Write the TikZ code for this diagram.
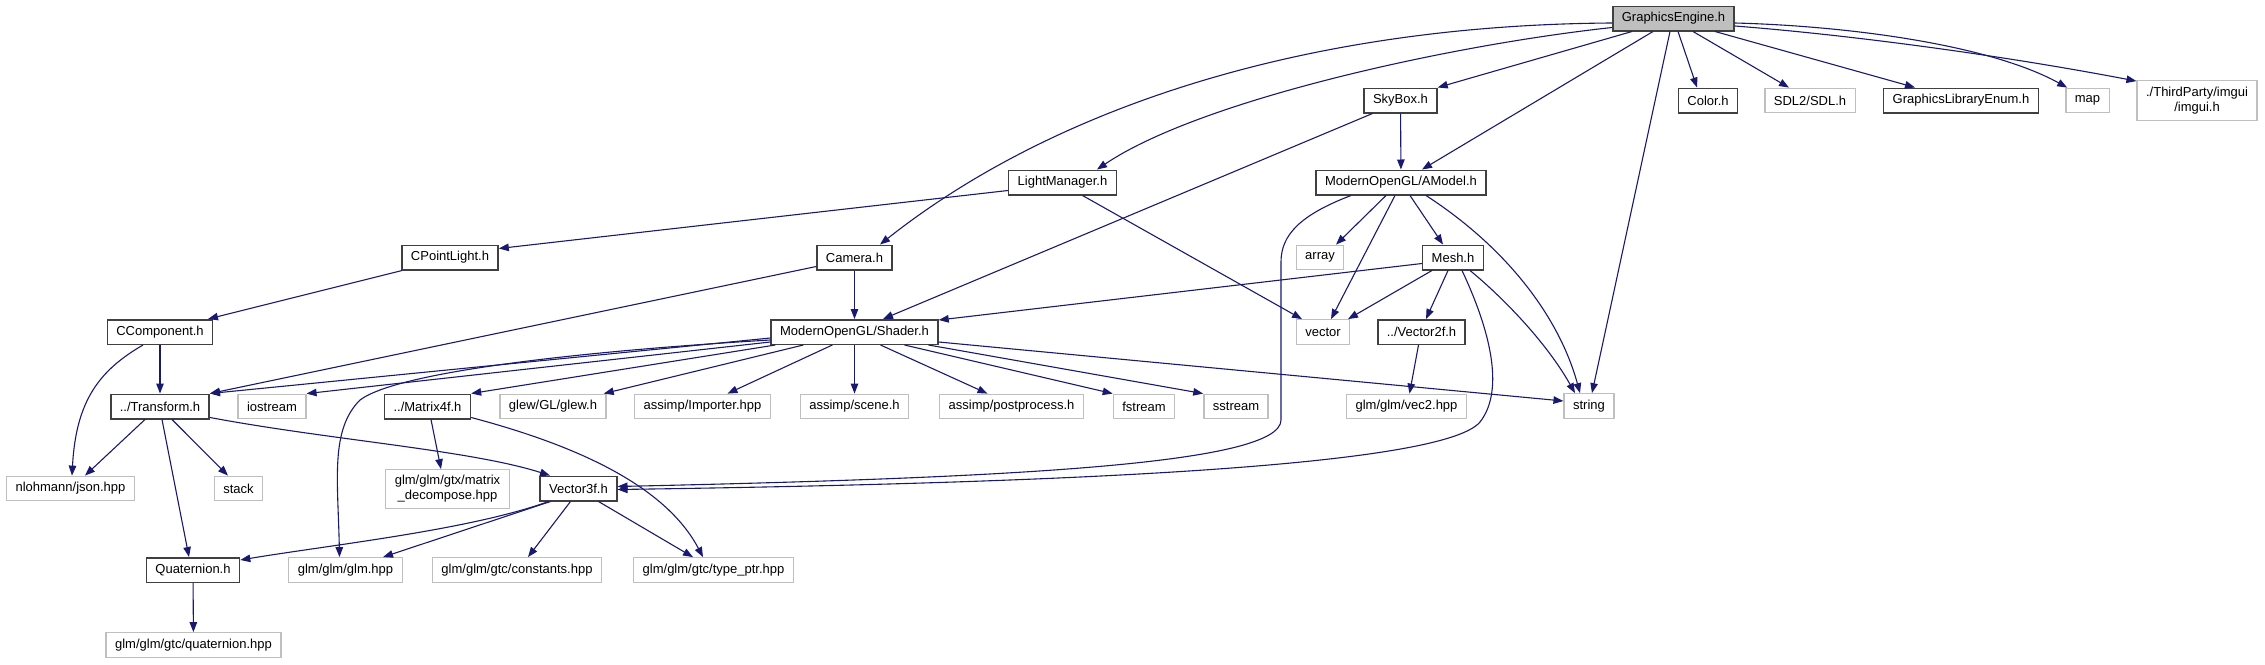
\documentclass[tikz,border=0pt]{standalone}
\usepackage{fontspec}
\setmainfont{Liberation Sans}
\usepackage{xcolor}
\definecolor{edgeblue}{RGB}{25,25,112}
\definecolor{sysgray}{RGB}{191,191,191}
\definecolor{boxframe}{RGB}{64,64,64}
\usepackage{tikz}
\usetikzlibrary{arrows.meta}
\tikzset{
  inc_file/.style={rectangle,
    draw=boxframe,line width=1.5pt,fill=white,
    font=\fontsize{13}{15}\selectfont,align=center,
    inner xsep=9pt,inner ysep=0pt,minimum height=24.5pt},
  inc_sys/.style={inc_file,draw=sysgray,line width=1.3pt},
  inc_root/.style={inc_file,fill=sysgray},
  arr/.style={-{Triangle[length=10pt,width=7.5pt]},line width=1.1pt,draw=edgeblue},
}

\begin{document}
\begin{tikzpicture}[x=1pt,y=-1pt]
  \useasboundingbox (0,0) rectangle (2265,664);

  % --- Top row ---
  \node (ge)       [inc_root] at (1673.5,18.5) {GraphicsEngine.h};
  \node (skybox)   [inc_file] at (1400.5,100.5) {SkyBox.h};
  \node (color)    [inc_file] at (1708,100.5)   {Color.h};
  \node (sdl)      [inc_sys]  at (1810,100.5)   {SDL2/SDL.h};
  \node (libenum)  [inc_file] at (1961,100.5)   {GraphicsLibraryEnum.h};
  \node (map)      [inc_sys]  at (2087.5,100.5) {map};
  \node (imgui)    [inc_sys,minimum height=39.5pt] at (2197,100.5)
    {./ThirdParty/imgui\\/imgui.h};

  % --- Managers and models ---
  \node (lightmgr) [inc_file] at (1062.5,182.5) {LightManager.h};
  \node (amodel)   [inc_file] at (1401,182.5)   {ModernOpenGL/AModel.h};
  \node (pointlight) [inc_file] at (450,257.5) {CPointLight.h};
  \node (camera)   [inc_file] at (854.5,257.5)  {Camera.h};
  \node (array)    [inc_sys]  at (1320,257.5)   {array};
  \node (mesh)     [inc_file] at (1453,257.5)   {Mesh.h};
  \node (component) [inc_file] at (160,332)     {CComponent.h};
  \node (shader)   [inc_file] at (854.5,332)    {ModernOpenGL/Shader.h};
  \node (vector)   [inc_sys]  at (1323,332)     {vector};
  \node (vec2f)    [inc_file] at (1421.5,332)   {../Vector2f.h};

  % --- Headers row ---
  \node (transform) [inc_file] at (160,406.5)  {../Transform.h};
  \node (iostream) [inc_sys]  at (272,406.5)    {iostream};
  \node (mat4f)    [inc_file] at (427.5,406.5)  {../Matrix4f.h};
  \node (glew)     [inc_sys]  at (553,406.5)    {glew/GL/glew.h};
  \node (importer) [inc_sys]  at (702.5,406.5)  {assimp/Importer.hpp};
  \node (scene)    [inc_sys]  at (854.5,406.5)  {assimp/scene.h};
  \node (postproc) [inc_sys]  at (1011.5,406.5) {assimp/postprocess.h};
  \node (fstream)  [inc_sys]  at (1144,406.5)   {fstream};
  \node (sstream)  [inc_sys]  at (1236,406.5)   {sstream};
  \node (vec2hpp)  [inc_sys]  at (1406.5,406.5) {glm/glm/vec2.hpp};
  \node (string)   [inc_sys]  at (1589,406)     {string};

  % --- Math row ---
  \node (json)     [inc_sys]  at (70.5,488.5)   {nlohmann/json.hpp};
  \node (stack)    [inc_sys]  at (238.5,488.5)  {stack};
  \node (matdecomp) [inc_sys,minimum height=38.5pt] at (447.5,489)
    {glm/glm/gtx/matrix\\\_decompose.hpp};
  \node (vec3f)    [inc_file] at (578.5,488.5)  {Vector3f.h};
  \node (quat)     [inc_file] at (193,570)      {Quaternion.h};
  \node (glmhpp)   [inc_sys]  at (345.5,570)    {glm/glm/glm.hpp};
  \node (constants) [inc_sys] at (517,570)      {glm/glm/gtc/constants.hpp};
  \node (typeptr)  [inc_sys]  at (713.5,570)    {glm/glm/gtc/type\_ptr.hpp};
  \node (quathpp)  [inc_sys]  at (193.5,645)    {glm/glm/gtc/quaternion.hpp};

  % --- GraphicsEngine.h ---
  \draw[arr] ([yshift=-9pt]ge.west) .. controls (1450,45) and (1200,100) .. ([xshift=34.5pt]lightmgr.north);
  \draw[arr] ([yshift=-4.5pt]ge.west) .. controls (1300,25) and (1050,110) .. ([xshift=25.5pt]camera.north);
  \draw[arr] ([xshift=-41.5pt]ge.south) -- (skybox.north east);
  \draw[arr] ([xshift=-20.5pt]ge.south) -- ([xshift=21pt]amodel.north);
  \draw[arr] ([xshift=-3.5pt]ge.south) -- ([xshift=3pt]string.north);
  \draw[arr] ([xshift=4.5pt]ge.south) -- ([xshift=-11pt]color.north);
  \draw[arr] ([xshift=19.5pt]ge.south) -- ([xshift=-21pt]sdl.north);
  \draw[arr] ([xshift=41.5pt]ge.south) -- ([xshift=-46pt]libenum.north);
  \draw[arr] ([yshift=-4.5pt]ge.east) .. controls (1850,26) and (1990,45) .. ([xshift=2pt]map.north west);
  \draw[arr] ([yshift=-7.5pt]ge.east) .. controls (1850,35) and (2000,55) .. ([yshift=-1pt]imgui.north west);

  % --- SkyBox.h / LightManager.h ---
  \draw[arr] (skybox) -- (amodel);
  \draw[arr] ([xshift=-28pt]skybox.south) -- ([xshift=28.5pt]shader.north);
  \draw[arr] ([yshift=-8pt]lightmgr.west) -- ([yshift=9pt]pointlight.east);
  \draw[arr] ([xshift=20pt]lightmgr.south) -- ([xshift=-21pt]vector.north);

  % --- ModernOpenGL/AModel.h ---
  \draw[arr] ([xshift=-15pt]amodel.south) -- ([xshift=16pt]array.north);
  \draw[arr] ([xshift=-6pt]amodel.south) -- ([xshift=8pt]vector.north);
  \draw[arr] ([xshift=9pt]amodel.south) -- ([xshift=-10pt]mesh.north);
  \draw[arr] ([xshift=25pt]amodel.south) .. controls (1510,250) and (1560,320) .. ([xshift=-9pt]string.north);
  \draw[arr] ([xshift=-50pt]amodel.south) .. controls (1300,215) and (1281,235) .. (1281,262)
    -- (1281,420) .. controls (1281,465) and (1000,478) .. ([yshift=2pt]vec3f.east);

  % --- Mesh.h ---
  \draw[arr] ([yshift=-6pt]mesh.west) -- ([yshift=12pt]shader.east);
  \draw[arr] ([xshift=-21pt]mesh.south) -- ([xshift=25pt]vector.north);
  \draw[arr] ([xshift=-5pt]mesh.south) -- ([xshift=4.5pt]vec2f.north);
  \draw[arr] ([xshift=17pt]mesh.south) .. controls (1500,295) and (1545,340) .. ([xshift=-14pt]string.north);
  \draw[arr] ([xshift=9pt]mesh.south) .. controls (1490,330) and (1505,390) .. (1480,422)
    .. controls (1440,470) and (1000,484) .. ([yshift=-1pt]vec3f.east);
  \draw[arr] ([xshift=-3pt]vec2f.south) -- ([xshift=3pt]vec2hpp.north);

  % --- Camera.h / CPointLight.h ---
  \draw[arr] (camera) -- (shader);
  \draw[arr] ([yshift=-9pt]camera.west) -- (transform.north east);
  \draw[arr] ([xshift=-48pt]pointlight.south) -- ([xshift=48pt]component.north);

  % --- ModernOpenGL/Shader.h ---
  \draw[arr] ([yshift=-6pt]shader.west) -- (transform.north east);
  \draw[arr] ([yshift=-8pt]shader.west) .. controls (600,350) and (400,370) .. (360,400)
    .. controls (330,430) and (338,480) .. ([xshift=-6pt]glmhpp.north);
  \draw[arr] ([yshift=-10pt]shader.west) -- (iostream.north east);
  \draw[arr] ([xshift=5pt]shader.south west) -- (mat4f.north east);
  \draw[arr] ([xshift=33pt]shader.south west) -- ([xshift=-3pt]glew.north east);
  \draw[arr] ([xshift=62pt]shader.south west) -- ([xshift=25pt]importer.north);
  \draw[arr] (shader) -- (scene);
  \draw[arr] ([xshift=26pt]shader.south) -- ([xshift=-24pt]postproc.north);
  \draw[arr] ([xshift=50pt]shader.south) -- (fstream.north west);
  \draw[arr] ([xshift=74pt]shader.south) -- (sstream.north west);
  \draw[arr] ([yshift=-10pt]shader.east) -- ([yshift=5pt]string.west);

  % --- CComponent.h / ../Transform.h ---
  \draw[arr] (component) -- (transform);
  \draw[arr] ([xshift=-17pt]component.south) .. controls (100,370) and (76,400) .. ([xshift=1.5pt]json.north);
  \draw[arr] ([xshift=-15pt]transform.south) -- ([xshift=14.5pt]json.north);
  \draw[arr] ([xshift=12pt]transform.south) -- ([xshift=-10.5pt]stack.north);
  \draw[arr] ([xshift=2pt]transform.south) -- ([xshift=-4pt]quat.north);
  \draw[arr] ([yshift=-11pt]transform.east) .. controls (330,440) and (470,450) .. ([xshift=-28.5pt]vec3f.north);

  % --- ../Matrix4f.h / Vector3f.h ---
  \draw[arr] ([xshift=3.5pt]mat4f.south) -- ([xshift=-6.5pt]matdecomp.north);
  \draw[arr] ([yshift=-11pt]mat4f.east) .. controls (575,445) and (665,485) .. ([xshift=-10.5pt]typeptr.north);
  \draw[arr] ([xshift=-30pt]vec3f.south) .. controls (470,530) and (330,545) .. ([yshift=-3pt]quat.north east);
  \draw[arr] ([xshift=-28pt]vec3f.south) -- ([xshift=37.5pt]glmhpp.north);
  \draw[arr] ([xshift=-8pt]vec3f.south) -- ([xshift=11pt]constants.north);
  \draw[arr] ([xshift=20pt]vec3f.south) -- ([xshift=-20.5pt]typeptr.north);
  \draw[arr] (quat) -- (quathpp);
\end{tikzpicture}
\end{document}
